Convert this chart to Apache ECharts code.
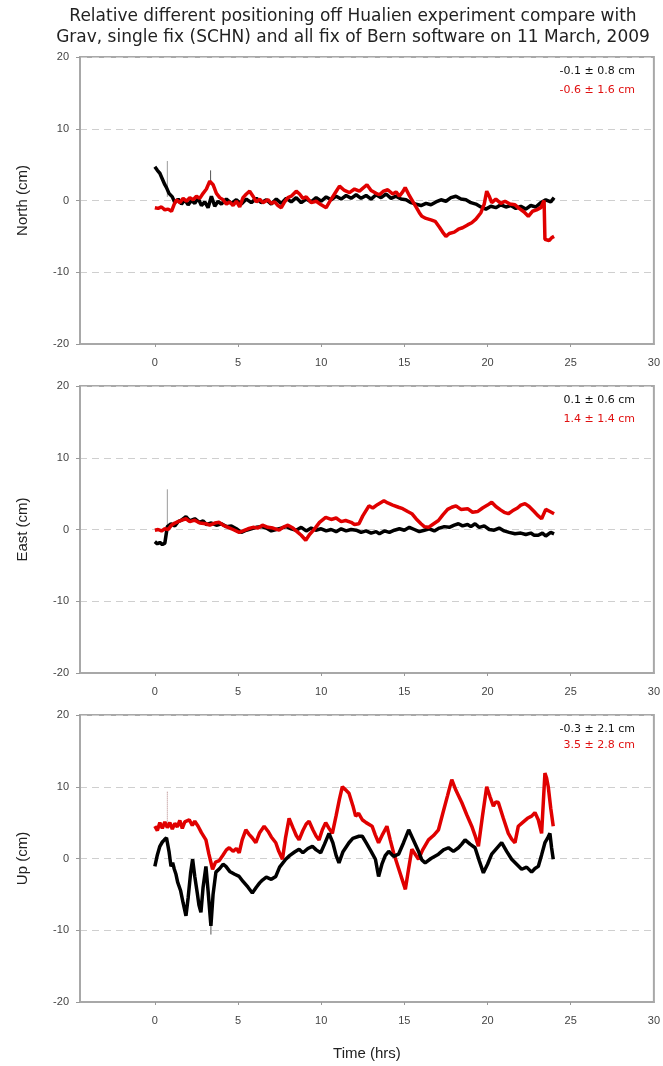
<!DOCTYPE html>
<html>
<head>
<meta charset="utf-8">
<title>Hualien relative positioning</title>
<script src="https://cdn.jsdelivr.net/npm/echarts@6.0.0/dist/echarts.min.js"></script>
<style>
  html, body { margin: 0; padding: 0; background: #fff; }
  #main { width: 663px; height: 1066px; }
</style>
</head>
<body>
<div id="main"></div>
<script>
// tick labels
var xTickValues = [0, 5, 10, 15, 20, 25, 30];
var xTickMarks = [0, 5, 10, 15, 20, 25];
var panelNames = ['North (cm)', 'East (cm)', 'Up (cm)'];
var statBlack = ['-0.1 ± 0.8 cm', '0.1 ± 0.6 cm', '-0.3 ± 2.1 cm'];
var statRed = ['-0.6 ± 1.6 cm', '1.4 ± 1.4 cm', '3.5 ± 2.8 cm'];

// North: [hrs, cm]
var northBlack = [[0,4.7],[0.15,4.2],[0.3,3.8],[0.45,3.0],[0.6,2.2],[0.7,1.8],[0.85,1.0],[1.05,0.5],[1.2,-0.3],[1.4,0.2],[1.6,-0.5],[1.8,0.1],[2.0,-0.6],[2.2,0],[2.4,-0.4],[2.6,0.3],[2.8,-0.7],[3.0,-0.2],[3.2,-1.0],[3.4,0.6],[3.6,-0.8],[3.8,-0.1],[4.0,-0.5],[4.3,0.2],[4.6,-0.4],[4.9,0.1],[5.2,-0.5],[5.5,0.2],[5.8,-0.3],[6.1,0.3],[6.4,-0.3],[6.7,0.1],[7.0,-0.5],[7.3,0.2],[7.6,-0.4],[7.9,0.3],[8.2,-0.2],[8.5,0.4],[8.8,-0.3],[9.1,0.2],[9.4,-0.2],[9.7,0.4],[10.0,-0.1],[10.3,0.5],[10.6,0.1],[10.9,0.6],[11.2,0.2],[11.5,0.7],[11.8,0.3],[12.1,0.8],[12.4,0.3],[12.7,0.7],[13.0,0.2],[13.3,0.8],[13.6,0.4],[13.9,0.9],[14.2,0.3],[14.5,0.6],[14.8,0.2],[15.1,0.1],[15.4,-0.3],[15.7,-0.5],[16.0,-0.7],[16.3,-0.4],[16.6,-0.6],[16.9,-0.2],[17.2,0.1],[17.5,-0.1],[17.8,0.4],[18.1,0.6],[18.4,0.2],[18.7,0.1],[19.0,-0.3],[19.3,-0.5],[19.6,-0.9],[19.9,-1.2],[20.2,-0.8],[20.5,-1.0],[20.8,-0.6],[21.1,-0.9],[21.4,-0.7],[21.7,-1.1],[22.0,-0.8],[22.3,-1.2],[22.6,-0.7],[22.9,-0.9],[23.2,-0.3],[23.5,0.1],[23.8,-0.2],[24.0,0.4]];
var northRed = [[0,-1.0],[0.2,-1.1],[0.4,-0.9],[0.6,-1.3],[0.8,-1.2],[1.0,-1.5],[1.15,-0.6],[1.3,0.1],[1.5,-0.3],[1.7,0.3],[1.9,-0.1],[2.1,0.4],[2.3,0.1],[2.5,0.6],[2.7,0.3],[2.9,1.0],[3.1,1.6],[3.3,2.7],[3.5,2.2],[3.7,1.0],[3.9,0.4],[4.1,0.1],[4.3,-0.5],[4.5,-0.2],[4.7,-0.7],[4.9,-0.1],[5.1,-0.9],[5.3,0.4],[5.5,0.9],[5.7,1.3],[5.9,0.6],[6.1,-0.2],[6.3,0.2],[6.5,-0.3],[6.8,0.1],[7.0,-0.4],[7.2,-0.2],[7.4,-0.7],[7.6,-1.0],[7.8,-0.2],[8.0,0.4],[8.2,0.6],[8.5,1.3],[8.7,0.9],[8.9,0.3],[9.1,0.5],[9.4,-0.3],[9.7,-0.1],[10.0,-0.6],[10.3,-1.0],[10.5,-0.2],[10.8,0.9],[11.1,2.0],[11.4,1.4],[11.7,1.1],[12.0,1.6],[12.3,1.3],[12.75,2.2],[13.0,1.4],[13.3,1.0],[13.5,0.8],[13.75,1.3],[14.0,1.5],[14.3,0.9],[14.5,1.2],[14.7,0.6],[14.9,1.2],[15.05,1.8],[15.25,0.9],[15.45,0.1],[15.7,-0.9],[15.9,-1.7],[16.05,-2.2],[16.3,-2.5],[16.6,-2.7],[16.85,-2.9],[17.1,-3.7],[17.3,-4.4],[17.5,-5.0],[17.7,-4.6],[18.0,-4.4],[18.25,-4.0],[18.5,-3.8],[18.8,-3.4],[19.05,-3.1],[19.3,-2.6],[19.6,-1.7],[19.8,-0.5],[19.95,1.3],[20.1,0.6],[20.25,-0.3],[20.5,0.2],[20.8,-0.4],[21.05,-0.1],[21.35,-0.5],[21.65,-0.6],[21.9,-1.1],[22.2,-1.6],[22.45,-2.2],[22.7,-1.5],[22.95,-1.3],[23.2,-1.0],[23.4,0.0],[23.45,-5.4],[23.7,-5.6],[23.85,-5.2],[24.0,-5.0]];
var northSpikeA = [[0.75,0.5],[0.75,5.5]];
var northSpikeB = [[3.35,2.4],[3.35,4.2]];

// East
var eastBlack = [[0,-1.7],[0.15,-2.0],[0.3,-1.8],[0.45,-2.1],[0.6,-1.9],[0.7,-2.0],[0.75,0.4],[0.97,0.8],[1.2,0.5],[1.4,1.1],[1.6,1.3],[1.87,1.8],[2.1,1.2],[2.4,1.5],[2.67,1.0],[2.9,1.2],[3.1,0.7],[3.4,0.9],[3.7,0.6],[4.0,0.8],[4.3,0.4],[4.6,0.5],[4.9,0.1],[5.2,-0.4],[5.5,-0.1],[5.8,0.1],[6.1,0.3],[6.4,0.4],[6.7,0.2],[7.0,-0.2],[7.3,0.0],[7.6,0.2],[7.9,0.4],[8.2,0.1],[8.5,-0.1],[8.8,0.3],[9.1,-0.2],[9.4,0.2],[9.67,-0.1],[10.0,0.1],[10.3,-0.2],[10.6,0.0],[10.9,-0.3],[11.2,0.1],[11.5,-0.2],[11.8,0.0],[12.1,-0.1],[12.4,-0.4],[12.7,-0.2],[13.0,-0.5],[13.3,-0.3],[13.5,-0.6],[13.8,-0.2],[14.1,-0.4],[14.4,-0.1],[14.7,0.1],[15.0,-0.1],[15.3,0.3],[15.6,0.0],[15.9,-0.3],[16.2,-0.1],[16.5,0.1],[16.8,-0.2],[17.1,0.2],[17.4,0.4],[17.7,0.3],[18.0,0.6],[18.25,0.8],[18.5,0.5],[18.8,0.7],[19.0,0.4],[19.25,0.8],[19.5,0.3],[19.8,0.5],[20.1,0.0],[20.4,-0.1],[20.7,0.2],[21.0,-0.2],[21.3,-0.4],[21.65,-0.6],[22.0,-0.5],[22.3,-0.7],[22.6,-0.5],[22.8,-0.8],[23.05,-0.8],[23.3,-0.5],[23.5,-0.9],[23.8,-0.4],[24.0,-0.6]];
var eastRed = [[0,-0.1],[0.2,0.0],[0.4,-0.2],[0.6,0.1],[0.8,0.0],[1.0,0.6],[1.2,0.9],[1.5,1.2],[1.87,1.5],[2.1,1.1],[2.4,1.3],[2.7,0.9],[3.07,0.8],[3.3,0.6],[3.6,0.9],[3.87,1.0],[4.1,0.6],[4.4,0.3],[4.7,0.0],[5.07,-0.4],[5.3,-0.2],[5.6,0.1],[5.9,0.3],[6.2,0.2],[6.47,0.6],[6.8,0.3],[7.1,0.2],[7.47,-0.1],[7.7,0.3],[8.0,0.6],[8.3,0.2],[8.6,-0.4],[8.8,-0.8],[9.07,-1.5],[9.3,-0.7],[9.5,-0.2],[9.67,0.3],[9.9,1.0],[10.27,1.7],[10.6,1.4],[10.9,1.6],[11.2,1.1],[11.47,1.25],[11.8,1.0],[12.0,0.7],[12.27,0.8],[12.5,1.9],[12.87,3.3],[13.1,3.0],[13.4,3.5],[13.77,4.0],[14.0,3.7],[14.3,3.4],[14.65,3.1],[14.9,2.9],[15.2,2.5],[15.45,2.2],[15.7,1.5],[16.0,0.8],[16.2,0.4],[16.45,0.3],[16.7,0.7],[17.05,1.25],[17.3,2.0],[17.6,2.8],[17.85,3.1],[18.1,3.3],[18.4,2.8],[18.8,2.9],[19.1,2.4],[19.4,2.5],[19.7,3.0],[20.0,3.4],[20.25,3.8],[20.5,3.2],[20.8,2.7],[21.0,2.4],[21.25,2.2],[21.5,2.6],[21.8,3.0],[22.0,3.4],[22.25,3.6],[22.5,3.2],[22.8,2.5],[23.0,2.0],[23.25,1.5],[23.5,2.8],[23.75,2.5],[24.0,2.2]];
var eastSpikeA = [[0.75,0.4],[0.75,5.6]];

// Up
var upBlack = [[0,-1.1],[0.15,0.5],[0.3,1.7],[0.45,2.3],[0.57,2.6],[0.7,2.9],[0.85,1.0],[0.97,-1.1],[1.07,-0.6],[1.17,-1.5],[1.27,-2.2],[1.37,-3.3],[1.55,-4.5],[1.7,-6.2],[1.87,-8.0],[2.0,-5.5],[2.15,-2.0],[2.27,-0.1],[2.4,-2.5],[2.55,-4.8],[2.65,-6.5],[2.77,-7.5],[2.9,-4.0],[3.07,-1.1],[3.2,-4.5],[3.37,-9.4],[3.5,-5.0],[3.67,-1.9],[3.9,-1.4],[4.1,-0.8],[4.27,-1.1],[4.5,-1.8],[4.8,-2.2],[5.07,-2.5],[5.3,-3.2],[5.6,-4.0],[5.86,-4.8],[6.1,-4.0],[6.3,-3.4],[6.47,-3.0],[6.7,-2.6],[7.0,-2.9],[7.27,-2.5],[7.5,-1.2],[7.87,-0.1],[8.1,0.4],[8.4,0.9],[8.67,1.3],[8.9,0.8],[9.2,1.4],[9.47,1.7],[9.7,1.2],[9.97,0.8],[10.2,2.0],[10.47,3.5],[10.7,2.2],[10.9,0.4],[11.07,-0.6],[11.3,0.9],[11.67,2.2],[11.9,2.8],[12.27,3.1],[12.47,3.1],[12.7,2.2],[13.0,1.0],[13.26,-0.1],[13.45,-2.5],[13.65,-0.8],[13.85,0.4],[14.06,1.0],[14.35,0.3],[14.65,0.6],[14.95,2.2],[15.26,4.0],[15.5,2.8],[15.85,1.0],[16.05,-0.2],[16.25,-0.6],[16.6,0.0],[17.05,0.6],[17.35,1.2],[17.65,1.5],[17.95,1.0],[18.25,1.5],[18.45,2.0],[18.65,2.6],[18.95,2.0],[19.25,1.5],[19.5,-0.3],[19.75,-2.0],[20.0,-0.8],[20.25,0.6],[20.55,1.4],[20.85,2.2],[21.15,1.0],[21.45,-0.1],[21.75,-0.8],[22.05,-1.5],[22.35,-1.2],[22.65,-1.9],[22.85,-1.4],[23.05,-1.1],[23.25,0.5],[23.45,2.2],[23.6,2.8],[23.75,3.5],[23.85,1.5],[23.95,-0.1]];
var upRed = [[0,4.5],[0.15,3.9],[0.3,5.0],[0.45,4.2],[0.6,5.1],[0.75,4.3],[0.9,5.0],[1.05,4.1],[1.2,4.9],[1.35,4.4],[1.5,5.3],[1.65,4.2],[1.8,5.1],[2.07,5.4],[2.25,4.6],[2.4,5.2],[2.6,4.5],[2.8,3.6],[3.07,2.6],[3.25,0.6],[3.47,-1.5],[3.65,-0.5],[3.87,-0.3],[4.1,0.5],[4.3,1.2],[4.47,1.5],[4.7,1.0],[4.9,1.4],[5.07,0.8],[5.25,2.6],[5.47,4.0],[5.65,3.4],[5.85,2.9],[6.07,2.2],[6.3,3.6],[6.57,4.5],[6.8,3.8],[7.0,3.0],[7.27,2.2],[7.45,1.0],[7.67,-0.1],[7.85,2.8],[8.07,5.6],[8.3,4.3],[8.5,3.2],[8.67,2.6],[8.9,3.9],[9.1,4.8],[9.27,5.2],[9.5,4.0],[9.7,3.1],[9.87,2.6],[10.07,4.0],[10.27,5.0],[10.47,4.2],[10.67,3.5],[10.9,6.0],[11.1,8.3],[11.27,10.0],[11.45,9.6],[11.67,9.1],[11.9,7.4],[12.07,5.9],[12.25,6.3],[12.47,5.4],[12.7,5.0],[13.06,4.5],[13.25,3.3],[13.45,2.2],[13.7,3.4],[13.95,4.5],[14.15,2.6],[14.35,0.8],[14.6,-1.0],[14.85,-2.8],[15.06,-4.3],[15.25,-1.5],[15.45,1.3],[15.65,0.6],[15.85,-0.1],[16.1,1.2],[16.45,2.6],[16.75,3.2],[17.05,4.0],[17.3,6.2],[17.6,8.8],[17.85,11.0],[18.1,9.5],[18.45,7.8],[18.75,6.1],[19.05,4.5],[19.25,3.2],[19.45,1.7],[19.7,6.0],[19.95,10.0],[20.15,8.6],[20.35,7.3],[20.5,7.9],[20.65,7.8],[20.95,5.6],[21.25,3.5],[21.45,2.7],[21.65,2.2],[21.85,4.5],[22.1,5.0],[22.4,5.6],[22.65,5.9],[22.85,6.4],[23.05,5.4],[23.25,3.5],[23.45,11.9],[23.55,11.2],[23.65,10.0],[23.8,7.0],[23.95,4.5]];
var upSpikeA = [[0.75,5.0],[0.75,9.3]];
var upSpikeB = [[3.37,-9.4],[3.37,-10.6]];

var FONT = '"Liberation Sans", Arial, sans-serif';
var WIDE_FONT = '"DejaVu Sans", Verdana, sans-serif';
var gridTops = [57, 386, 715];
var GRID_H = 287;

var chart = echarts.init(document.getElementById('main'), null, { renderer: 'canvas' });

var grids = [], xAxes = [], yAxes = [], series = [], graphics = [];

for (var i = 0; i < 3; i++) {
    grids.push({
        left: 80, right: 7, top: gridTops[i], height: GRID_H,
        show: true, borderColor: '#a8a8a8', borderWidth: 2, backgroundColor: '#fff'
    });
    xAxes.push({
        type: 'value', gridIndex: i, min: -4.5, max: 30,
        axisLine: { show: true, onZero: false, lineStyle: { color: '#a8a8a8', width: 2 } },
        axisTick: { show: true, length: 3, customValues: xTickMarks, lineStyle: { color: '#999' } },
        axisLabel: { customValues: xTickValues, color: '#444', fontSize: 11, fontFamily: FONT, margin: 13 },
        splitLine: { show: false },
        name: i === 2 ? 'Time (hrs)' : '',
        nameLocation: 'middle', nameGap: 44,
        nameTextStyle: { color: '#222', fontSize: 15, fontFamily: FONT }
    });
    yAxes.push({
        type: 'value', gridIndex: i, min: -20, max: 20, interval: 10,
        axisLine: { show: true, onZero: false, lineStyle: { color: '#a8a8a8', width: 2 } },
        axisTick: { show: true, length: 4, lineStyle: { color: '#999' } },
        axisLabel: { color: '#444', fontSize: 11, fontFamily: FONT, margin: 11 },
        splitLine: { show: true, lineStyle: { color: '#cfcfcf', type: [7, 5], width: 1.2 } },
        name: panelNames[i], nameLocation: 'middle', nameGap: 50,
        nameTextStyle: { color: '#222', fontSize: 15, fontFamily: FONT }
    });
    // stats text in the upper right corner
    graphics.push({
        type: 'text', right: 28, top: gridTops[i] + 9,
        style: { text: statBlack[i], fill: '#111', font: '11px ' + WIDE_FONT, textAlign: 'right' }
    });
    graphics.push({
        type: 'text', right: 28, top: gridTops[i] + (i === 2 ? 25 : 28),
        style: { text: statRed[i], fill: '#e01010', font: '11px ' + WIDE_FONT, textAlign: 'right' }
    });
}

function line(idx, data, color, width, z, dash) {
    return {
        type: 'line', xAxisIndex: idx, yAxisIndex: idx, data: data,
        showSymbol: false, symbol: 'none', silent: true, animation: false, z: z,
        lineStyle: { color: color, width: width, type: dash || 'solid' }
    };
}

// North
series.push(line(0, northSpikeA, '#9a9a9a', 1, 1));
series.push(line(0, northSpikeB, '#555', 1, 1));
series.push(line(0, northBlack, '#000', 3.5, 2));
series.push(line(0, northRed, '#e00000', 3.5, 3));
// East
series.push(line(1, eastSpikeA, '#9a9a9a', 1, 1));
series.push(line(1, eastBlack, '#000', 3.5, 2));
series.push(line(1, eastRed, '#e00000', 3.5, 3));
// Up
series.push(line(2, upSpikeA, '#b08080', 1, 1, 'dotted'));
series.push(line(2, upSpikeB, '#555', 1, 1));
series.push(line(2, upRed, '#e00000', 3.5, 2));
series.push(line(2, upBlack, '#000', 3.5, 3));

var option = {
    backgroundColor: '#fff',
    animation: false,
    title: {
        text: 'Relative different positioning off Hualien experiment compare with\nGrav, single fix (SCHN) and all fix of Bern software on 11 March, 2009',
        left: 348, top: 1, textAlign: 'center',
        textStyle: { color: '#222', fontSize: 17, fontWeight: 'normal', fontFamily: WIDE_FONT, lineHeight: 21 }
    },
    grid: grids,
    xAxis: xAxes,
    yAxis: yAxes,
    series: series,
    graphic: graphics
};
chart.setOption(option);
</script>
</body>
</html>
